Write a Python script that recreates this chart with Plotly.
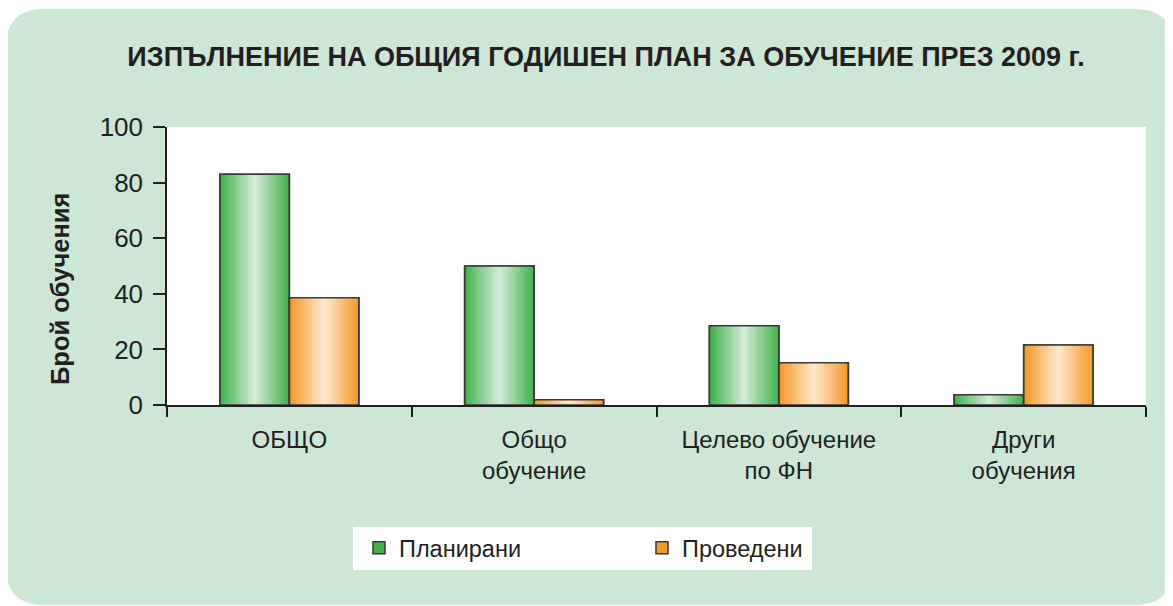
import plotly.graph_objects as go

categories = ["ОБЩО", "Общо<br>обучение", "Целево обучение<br>по ФН", "Други<br>обучения"]
planned = [83, 50, 28.5, 3.7]
conducted = [38.6, 1.9, 15.2, 21.6]
series_names = ["Планирани", "Проведени"]
y_ticks = [0, 20, 40, 60, 80, 100]

title_text = "ИЗПЪЛНЕНИЕ НА ОБЩИЯ ГОДИШЕН ПЛАН ЗА ОБУЧЕНИЕ ПРЕЗ 2009 г."
y_title = "Брой обучения"

OFF = 8  # page body margin
W, H = 1173 - OFF, 606 - OFF
ML, MT = 167 - OFF, 127 - OFF
MR = W - (1146 - OFF)
MB = H - (405 - OFF)
PW, PH = W - ML - MR, H - MT - MB

FONT = "Liberation Sans, Arial, Helvetica, sans-serif"
TXT = "#231f20"
BG = "#cde6d6"


def px_x(x):
    return (x - OFF - ML) / PW


def px_y(y):
    return (H - MB - (y - OFF)) / PH


def mix(c1, c2, t):
    a = [int(c1[i:i + 2], 16) for i in (1, 3, 5)]
    b = [int(c2[i:i + 2], 16) for i in (1, 3, 5)]
    return "rgb(%d,%d,%d)" % tuple(round(a[j] + (b[j] - a[j]) * t) for j in range(3))


fig = go.Figure()

BW = 0.284
N = 16
styles = [
    (planned, series_names[0], "#43b34e", "#d2ead6", -BW),
    (conducted, series_names[1], "#f59a2c", "#fee6c8", 0.0),
]
for vals, name, edge, center, off in styles:
    for k in range(N):
        frac = 1 - k / N
        w = BW * frac
        o = off + BW * (1 - frac) / 2
        t = k / (N - 1)
        fig.add_trace(go.Bar(
            x=categories, y=vals, name=name, legendgroup=name,
            showlegend=(k == 0), width=w, offset=o,
            marker=dict(color=mix(edge, center, t),
                        line=dict(width=1.5 if k == 0 else 0, color="#3a3a3a")),
            hoverinfo="skip" if k else None,
        ))
    fig.add_trace(go.Bar(
        x=categories, y=vals, name=name, legendgroup=name, showlegend=False,
        width=BW, offset=off,
        marker=dict(color="rgba(0,0,0,0)", line=dict(width=1.5, color="#3a3a3a")),
        hoverinfo="skip",
    ))

# rounded background panel and white plot area
x0, x1, y0, y1, r = 6, 1173, 9, 605, 38
path = (
    f"M {px_x(x0 + r)},{px_y(y0)} L {px_x(x1 - r)},{px_y(y0)} "
    f"Q {px_x(x1)},{px_y(y0)} {px_x(x1)},{px_y(y0 + r)} "
    f"L {px_x(x1)},{px_y(y1 - r)} Q {px_x(x1)},{px_y(y1)} {px_x(x1 - r)},{px_y(y1)} "
    f"L {px_x(x0 + r)},{px_y(y1)} Q {px_x(x0)},{px_y(y1)} {px_x(x0)},{px_y(y1 - r)} "
    f"L {px_x(x0)},{px_y(y0 + r)} Q {px_x(x0)},{px_y(y0)} {px_x(x0 + r)},{px_y(y0)} Z"
)
shapes = [
    dict(type="path", xref="paper", yref="paper", path=path,
         fillcolor=BG, line=dict(width=0), layer="below"),
    dict(type="rect", xref="paper", yref="paper", x0=0, x1=1, y0=0, y1=1,
         fillcolor="white", line=dict(width=0), layer="below"),
    dict(type="rect", xref="paper", yref="paper",
         x0=px_x(353), x1=px_x(812), y0=px_y(570), y1=px_y(527),
         fillcolor="white", line=dict(width=0), layer="below"),
]

fig.update_layout(
    width=W, height=H,
    margin=dict(l=ML, r=MR, t=MT, b=MB),
    paper_bgcolor="white", plot_bgcolor="rgba(0,0,0,0)",
    barmode="overlay",
    font=dict(family=FONT, color=TXT),
    shapes=shapes,
    title=dict(text="<b>" + title_text + "</b>", x=(606 - OFF) / W, xanchor="center",
               y=1 - (57 - OFF) / H, yanchor="middle", font=dict(size=27, color=TXT)),
    showlegend=True,
    legend=dict(orientation="h", x=px_x(359), xanchor="left",
                y=px_y(548), yanchor="middle",
                bgcolor="rgba(0,0,0,0)", font=dict(size=23.5, color=TXT),
                entrywidth=238, entrywidthmode="pixels", traceorder="normal"),
    annotations=[dict(text="<b>" + y_title + "</b>", textangle=-90,
                      xref="paper", yref="paper", x=px_x(60), y=px_y(289),
                      xanchor="center", yanchor="middle",
                      showarrow=False, font=dict(size=25.5, color=TXT))],
)

fig.update_xaxes(
    type="category", showline=True, linecolor=TXT, linewidth=1.5,
    ticks="outside", tickson="boundaries", ticklen=10, tickcolor=TXT, tickwidth=1.5,
    tickfont=dict(size=24, color=TXT), showgrid=False, fixedrange=True,
    ticklabelstandoff=12,
)
fig.update_yaxes(
    range=[0, 100], tickvals=y_ticks, showline=True, linecolor=TXT, linewidth=1.5,
    ticks="outside", ticklen=12, tickcolor=TXT, tickwidth=1.5,
    tickfont=dict(size=26, color=TXT), showgrid=False, zeroline=False,
    ticklabelstandoff=5, fixedrange=True,
)

fig.write_html("out.html")
